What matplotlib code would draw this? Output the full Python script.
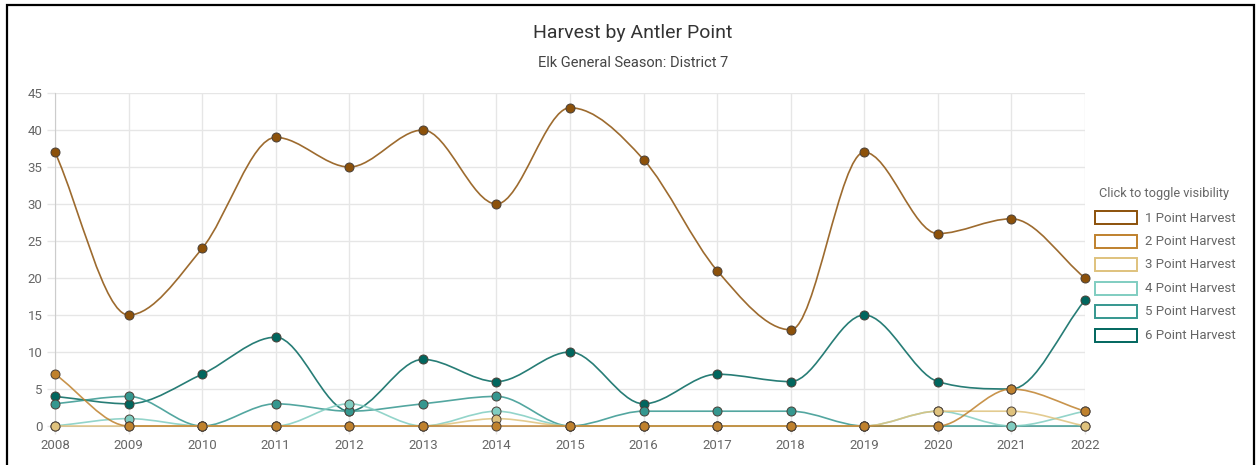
import matplotlib.pyplot as plt
import numpy as np
from matplotlib.path import Path
from matplotlib.patches import PathPatch, Rectangle

plt.rcParams['font.family'] = ['Roboto', 'DejaVu Sans']

# data
years = [2008, 2009, 2010, 2011, 2012, 2013, 2014, 2015,
         2016, 2017, 2018, 2019, 2020, 2021, 2022]
point_1 = [37, 15, 24, 39, 35, 40, 30, 43, 36, 21, 13, 37, 26, 28, 20]
point_2 = [7, 0, 0, 0, 0, 0, 0, 0, 0, 0, 0, 0, 0, 5, 2]
point_3 = [0, 0, 0, 0, 0, 0, 1, 0, 0, 0, 0, 0, 2, 2, 0]
point_4 = [0, 1, 0, 0, 3, 0, 2, 0, 0, 0, 0, 0, 2, 0, 2]
point_5 = [3, 4, 0, 3, 2, 3, 4, 0, 2, 2, 2, 0, 0, 0, 0]
point_6 = [4, 3, 7, 12, 2, 9, 6, 10, 3, 7, 6, 15, 6, 5, 17]

series = [point_1, point_2, point_3, point_4, point_5, point_6]
labels = ['1 Point Harvest', '2 Point Harvest', '3 Point Harvest',
          '4 Point Harvest', '5 Point Harvest', '6 Point Harvest']
colors = ['#8c510a', '#bf812d', '#dfc27d', '#80cdc1', '#35978f', '#01665e']

W, H = 1257, 465
fig = plt.figure(figsize=(W / 100, H / 100), dpi=100)

x0, x1 = 55, 1085
y_top, y_bot = 93, 426
ax = fig.add_axes([x0 / W, (H - y_bot) / H, (x1 - x0) / W, (y_bot - y_top) / H])
ax.set_xlim(0, len(years) - 1)
ax.set_ylim(0, 45)

grid_c = '#e6e6e6'
ax.set_xticks(range(len(years)))
ax.set_xticklabels([str(y) for y in years])
ax.set_yticks(range(0, 46, 5))
ax.grid(True, color=grid_c, lw=1)
ax.tick_params(axis='both', colors=grid_c, labelcolor='#666666', labelsize=9.5,
               length=6, width=1, pad=3)
for s in ['top', 'right']:
    ax.spines[s].set_visible(False)
for s in ['left', 'bottom']:
    ax.spines[s].set_color('#cccccc')
ax.set_axisbelow(True)


def monotone_path(xs, ys):
    # monotone cubic interpolation (Fritsch-Carlson), as bezier segments
    xs = np.asarray(xs, float)
    ys = np.asarray(ys, float)
    n = len(xs)
    dk = np.diff(ys) / np.diff(xs)
    mk = np.zeros(n)
    mk[0] = dk[0]
    mk[-1] = dk[-1]
    for i in range(1, n - 1):
        if np.sign(dk[i - 1]) != np.sign(dk[i]):
            mk[i] = 0
        else:
            mk[i] = (dk[i - 1] + dk[i]) / 2
    for i in range(n - 1):
        if abs(dk[i]) < 1e-9:
            mk[i] = mk[i + 1] = 0
            continue
        a = mk[i] / dk[i]
        b = mk[i + 1] / dk[i]
        tau_k = a * a + b * b
        if tau_k > 9:
            tau = 3 / np.sqrt(tau_k)
            mk[i] = a * tau * dk[i]
            mk[i + 1] = b * tau * dk[i]
    verts = [(xs[0], ys[0])]
    codes = [Path.MOVETO]
    for i in range(n - 1):
        d = (xs[i + 1] - xs[i]) / 3
        verts += [(xs[i] + d, ys[i] + mk[i] * d),
                  (xs[i + 1] - d, ys[i + 1] - mk[i + 1] * d),
                  (xs[i + 1], ys[i + 1])]
        codes += [Path.CURVE4] * 3
    return Path(verts, codes)


xs = np.arange(len(years))
for i, (vals, col) in enumerate(zip(series, colors)):
    z = 10 - i
    ax.add_patch(PathPatch(monotone_path(xs, vals), fc='none', ec=col, lw=1.2,
                           alpha=0.85, zorder=z, clip_on=False))
    ax.plot(xs, vals, 'o', ms=6.5, mfc=col, mec='#4a4038', mew=0.7,
            zorder=z + 0.5, clip_on=False)

# titles
fig.text(633 / W, 1 - 33 / H, 'Harvest by Antler Point', ha='center', va='center',
         fontsize=14, color='#333333')
fig.text(633 / W, 1 - 63 / H, 'Elk General Season: District 7', ha='center',
         va='center', fontsize=10.5, color='#444444')

# legend
fig.text(1164 / W, 1 - 193 / H, 'Click to toggle visibility', ha='center',
         va='center', fontsize=9.2, color='#666666')
for i, (lab, col) in enumerate(zip(labels, colors)):
    yc = 218 + i * 23.4
    fig.patches.append(Rectangle((1095 / W, 1 - (yc + 6.5) / H), 42 / W, 13 / H,
                                 transform=fig.transFigure, fc='white', ec=col,
                                 lw=1.4))
    fig.text(1145 / W, 1 - yc / H, lab, ha='left', va='center', fontsize=9.5,
             color='#666666')

# outer frame
fig.patches.append(Rectangle((7 / W, -0.02), 1247 / W, 1 - 5 / H + 0.02,
                             transform=fig.transFigure, fc='none', ec='black',
                             lw=1.6))

fig.savefig('out.png', dpi=100)
